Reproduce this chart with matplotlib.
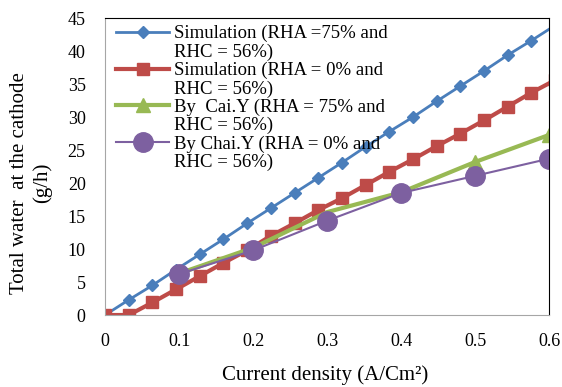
import matplotlib
matplotlib.use('Agg')
import matplotlib.pyplot as plt
from matplotlib.lines import Line2D

plt.rcParams['font.family'] = ['Liberation Serif', 'DejaVu Serif']

# current density steps of the simulations (A/cm2)
sim_x = [0.000, 0.032, 0.064, 0.096, 0.128, 0.160, 0.192, 0.224, 0.256, 0.288,
         0.320, 0.352, 0.384, 0.416, 0.448, 0.480, 0.512, 0.544, 0.576, 0.608]
sim_rha75 = [0.0, 2.3, 4.5, 6.9, 9.2, 11.5, 13.9, 16.2, 18.5, 20.8,
             23.1, 25.5, 27.8, 30.0, 32.4, 34.7, 37.0, 39.4, 41.6, 43.9]
sim_rha0 = [0.0, 0.0, 1.9, 3.9, 5.9, 7.9, 9.8, 12.0, 13.9, 15.9,
            17.7, 19.7, 21.7, 23.6, 25.6, 27.5, 29.5, 31.6, 33.7, 35.6]

# published results
ref_x = [0.1, 0.2, 0.3, 0.4, 0.5, 0.6]
cai_rha75 = [6.3, 10.2, 15.6, 18.6, 23.2, 27.3]
chai_rha0 = [6.2, 9.8, 14.3, 18.5, 21.1, 23.7]

labels = ['Simulation (RHA =75% and', 'RHC = 56%)',
          'Simulation (RHA = 0% and', 'RHC = 56%)',
          'By  Cai.Y (RHA = 75% and', 'RHC = 56%)',
          'By Chai.Y (RHA = 0% and', 'RHC = 56%)']

fig = plt.figure(figsize=(5.62, 3.87), dpi=100)
ax = fig.add_axes([0.187, 0.186, 0.790, 0.767])

l1, = ax.plot(sim_x, sim_rha75, color='#4A7EBB', lw=2, marker='D', ms=6.5)
l2, = ax.plot(sim_x, sim_rha0, color='#BE4B48', lw=3, marker='s', ms=9)
l3, = ax.plot(ref_x, cai_rha75, color='#98B954', lw=3, marker='^', ms=10,
              markevery=[0, 1, 3, 4, 5])
l4, = ax.plot(ref_x, chai_rha0, color='#7D60A0', lw=1.5, marker='o', ms=14)

ax.set_xlim(0, 0.6)
ax.set_ylim(0, 45)
ax.set_xticks([0, 0.1, 0.2, 0.3, 0.4, 0.5, 0.6])
ax.set_xticklabels(['0', '0.1', '0.2', '0.3', '0.4', '0.5', '0.6'])
ax.set_yticks(range(0, 46, 5))
ax.tick_params(length=0, labelsize=13)
ax.tick_params(axis='x', pad=13)
ax.tick_params(axis='y', pad=14)

for s in ['left', 'bottom']:
    ax.spines[s].set_color('#A6A6A6')
for s in ['top', 'right']:
    ax.spines[s].set_color('black')

ax.set_xlabel('Current density (A/Cm²)', fontsize=15)
ax.set_ylabel('Total water  at the cathode\n(g/h)', fontsize=15)
ax.xaxis.set_label_coords(0.495, -0.17)
ax.yaxis.set_label_coords(-0.12, 0.444)

# two-line legend entries: blank handle carries the second line
blank = Line2D([], [], linestyle='none')
leg = ax.legend([l1, blank, l2, blank, l3, blank, l4, blank], labels,
                loc='upper left', bbox_to_anchor=(0.0, 1.015), frameon=False,
                fontsize=13.5, handlelength=2.8, handletextpad=0.25,
                labelspacing=0.06, borderaxespad=0.2)

fig.savefig('out.png', dpi=100)
